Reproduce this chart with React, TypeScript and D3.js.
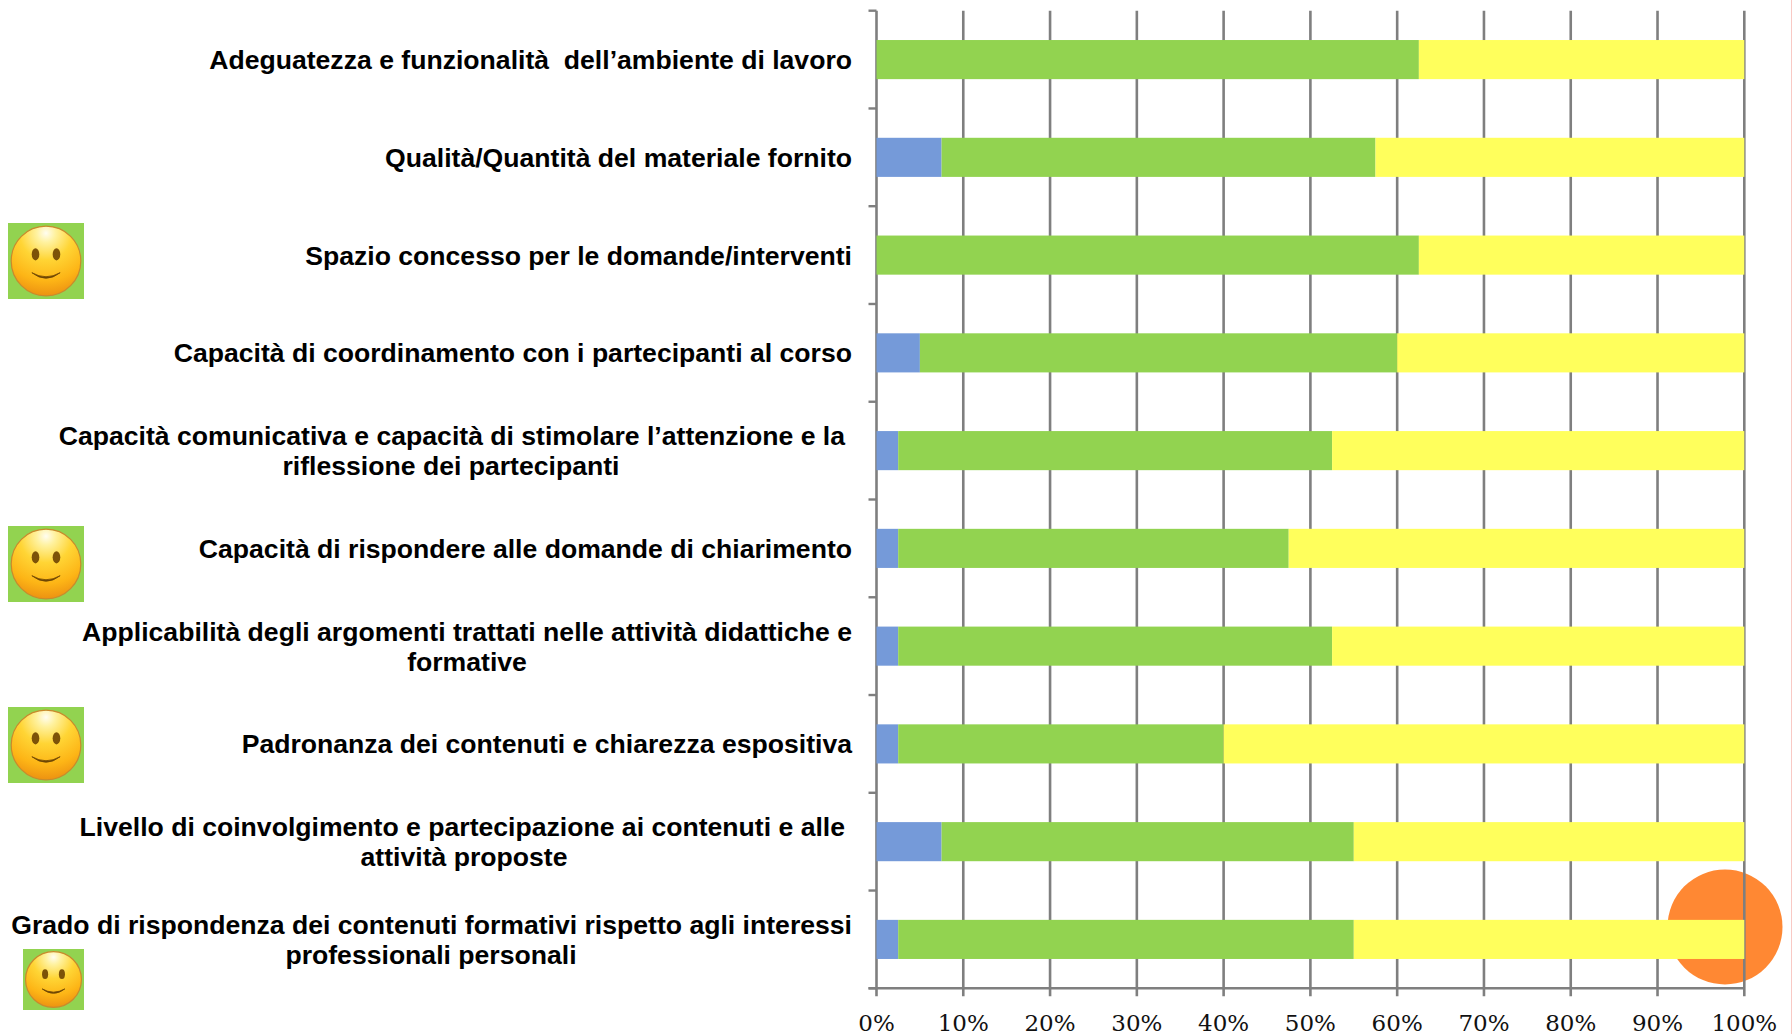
import React from "react";
import * as d3 from "d3";

const categories = [
  ["Adeguatezza e funzionalità  dell’ambiente di lavoro"],
  ["Qualità/Quantità del materiale fornito"],
  ["Spazio concesso per le domande/interventi"],
  ["Capacità di coordinamento con i partecipanti al corso"],
  ["Capacità comunicativa e capacità di stimolare l’attenzione e la", "riflessione dei partecipanti"],
  ["Capacità di rispondere alle domande di chiarimento"],
  ["Applicabilità degli argomenti trattati nelle attività didattiche e", "formative"],
  ["Padronanza dei contenuti e chiarezza espositiva"],
  ["Livello di coinvolgimento e partecipazione ai contenuti e alle", "attività proposte"],
  ["Grado di rispondenza dei contenuti formativi rispetto agli interessi", "professionali personali"],
];
const seriesBlue = [0, 7.5, 0, 5, 2.5, 2.5, 2.5, 2.5, 7.5, 2.5];
const seriesGreen = [62.5, 50, 62.5, 55, 50, 45, 50, 37.5, 47.5, 52.5];
const seriesYellow = [37.5, 42.5, 37.5, 40, 47.5, 52.5, 47.5, 60, 45, 45];
const tickValues = [0, 10, 20, 30, 40, 50, 60, 70, 80, 90, 100];

const colors = ["#759ad9", "#92d350", "#ffff5c"];
const gridColor = "#7f7f7f";

// per-row second-line centre and first-line right edge
const labelRight = [852, 852, 852, 852, 845, 852, 852, 852, 845, 852];
const secondLineCentre = [0, 0, 0, 0, 451, 0, 467, 0, 464, 431];
const smileys = [
  { x: 8, y: 223, w: 76, h: 76 },
  { x: 8, y: 526, w: 76, h: 76 },
  { x: 8, y: 707, w: 76, h: 76 },
  { x: 23, y: 949, w: 61, h: 61 },
];

function Smiley({ x, y, w, h }: { x: number; y: number; w: number; h: number }) {
  const cx = x + w / 2;
  const cy = y + h / 2;
  const r = w * 0.458;
  return (
    <g>
      <rect x={x} y={y} width={w} height={h} fill="#92d350" />
      <circle cx={cx} cy={cy} r={r} fill="url(#smileFace)" stroke="#c98a2c" strokeWidth={1.2} />
      <ellipse cx={cx - w * 0.138} cy={cy - w * 0.088} rx={w * 0.05} ry={w * 0.08} fill="#7d5208" />
      <ellipse cx={cx + w * 0.138} cy={cy - w * 0.088} rx={w * 0.05} ry={w * 0.08} fill="#7d5208" />
      <path
        d={`M${cx - w * 0.186} ${cy + w * 0.154} Q${cx} ${cy + w * 0.3} ${cx + w * 0.186} ${cy + w * 0.154} Q${cx} ${cy + w * 0.26} ${cx - w * 0.186} ${cy + w * 0.154}Z`}
        fill="#6e4604"
        stroke="#6e4604"
        strokeWidth={0.8}
        strokeLinejoin="round"
      />
    </g>
  );
}

export default function App() {
  const x = d3.scaleLinear().domain([0, 100]).range([876.5, 1744.3]);
  const y = d3.scaleBand<number>().domain(d3.range(categories.length)).range([10.7, 988.3]).paddingInner(0.6).paddingOuter(0.3);
  const stack = d3
    .stack<number>()
    .keys(["0", "1", "2"])
    .value((i, k) => [seriesBlue, seriesGreen, seriesYellow][+k][i]);
  const stacked = stack(d3.range(categories.length));
  const axisBottom = 988.3;
  const axisTop = 10.7;
  const rowTicks = d3.range(categories.length + 1).map((i) => axisTop + ((axisBottom - axisTop) * i) / categories.length);

  return (
    <svg width={1792} height={1034} style={{ position: "absolute", left: 0, top: 0, background: "#fff" }}>
      <defs>
        <radialGradient id="smileFace" cx="50%" cy="10%" r="95%">
          <stop offset="0%" stopColor="#fffdf0" />
          <stop offset="14%" stopColor="#fff2a0" />
          <stop offset="40%" stopColor="#ffd535" />
          <stop offset="72%" stopColor="#fdb516" />
          <stop offset="100%" stopColor="#e98a10" />
        </radialGradient>
      </defs>

      <line x1={1791.5} x2={1791.5} y1={0} y2={1034} stroke="#f9c9c4" strokeWidth={1} />

      <circle cx={1725} cy={927} r={57.5} fill="#ff8833" />

      {tickValues.map((t) => (
        <line key={t} x1={x(t)} x2={x(t)} y1={axisTop} y2={axisBottom + 8} stroke={gridColor} strokeWidth={2.6} />
      ))}
      {rowTicks.map((t, i) => (
        <line key={i} x1={x(0) - 8} x2={x(0)} y1={t} y2={t} stroke={gridColor} strokeWidth={2.4} />
      ))}
      <line x1={x(0) - 8} x2={x(100)} y1={axisBottom} y2={axisBottom} stroke={gridColor} strokeWidth={2.4} />

      {stacked.map((s, k) =>
        s.map((d, i) => (
          <rect
            key={`${k}-${i}`}
            x={x(d[0])}
            y={y(i)}
            width={Math.max(0, x(d[1]) - x(d[0]))}
            height={y.bandwidth()}
            fill={colors[k]}
          />
        ))
      )}

      {tickValues.map((t) => (
        <text
          key={t}
          x={x(t)}
          y={1031}
          textAnchor="middle"
          fontFamily="'DejaVu Serif', serif"
          fontSize={23}
          fill="#111"
        >
          {t}%
        </text>
      ))}

      {categories.map((lines, i) => {
        const mid = (y(i) as number) + y.bandwidth() / 2;
        const fontProps = { fontFamily: "'Liberation Sans', Arial, sans-serif", fontWeight: 700, fontSize: 26.6, fill: "#000" };
        if (lines.length === 1) {
          return (
            <text key={i} x={labelRight[i]} y={mid + 9.5} textAnchor="end" xmlSpace="preserve" {...fontProps}>
              {lines[0]}
            </text>
          );
        }
        return (
          <g key={i}>
            <text x={labelRight[i]} y={mid - 5.6} textAnchor="end" {...fontProps}>
              {lines[0]}
            </text>
            <text x={secondLineCentre[i]} y={mid + 24.6} textAnchor="middle" {...fontProps}>
              {lines[1]}
            </text>
          </g>
        );
      })}

      {smileys.map((s, i) => (
        <Smiley key={i} {...s} />
      ))}
    </svg>
  );
}
